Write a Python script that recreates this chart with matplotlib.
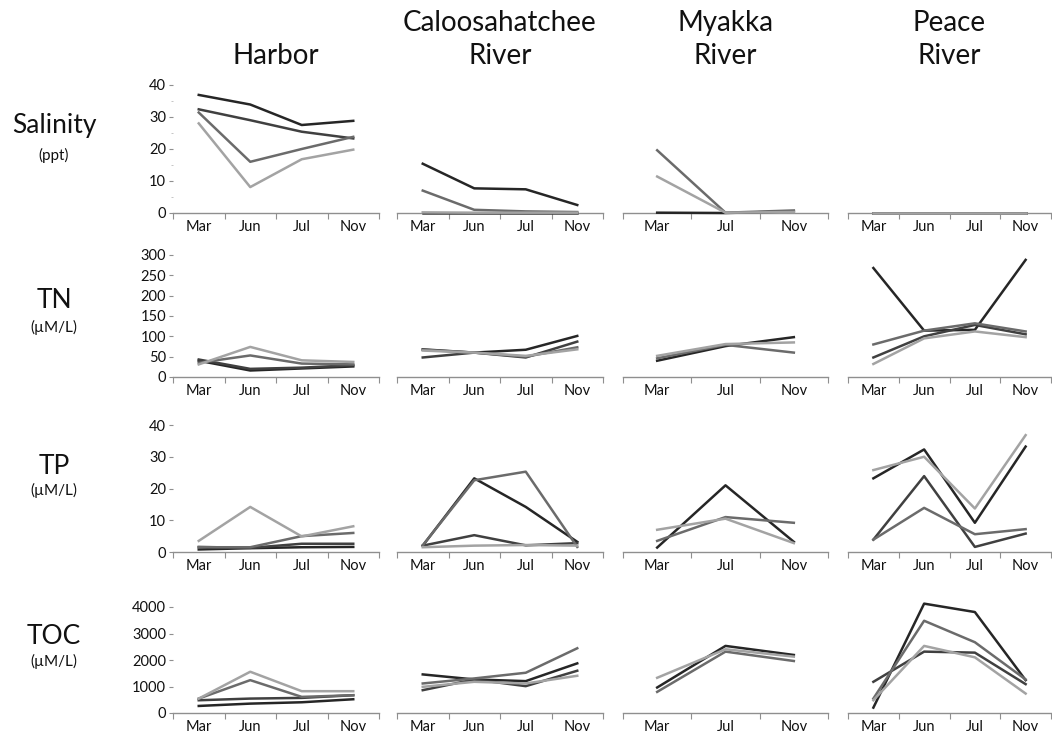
"""
Seasonal water quality at four sites: salinity, TN, TP and TOC
"""

import matplotlib
matplotlib.use("Agg")
import matplotlib.pyplot as plt
from matplotlib.ticker import FixedLocator, MultipleLocator
import numpy as np

plt.rcParams['font.family'] = ['Lato', 'DejaVu Sans']

sites = ["Harbor", "Caloosahatchee\nRiver", "Myakka\nRiver", "Peace\nRiver"]
months_4 = ["Mar", "Jun", "Jul", "Nov"]
months_3 = ["Mar", "Jul", "Nov"]
site_months = [months_4, months_4, months_3, months_4]

params = ["Salinity", "TN", "TP", "TOC"]
units = ["(ppt)", "(\u00b5M/L)", "(\u00b5M/L)", "(\u00b5M/L)"]
y_max = [40, 300, 40, 4000]
y_step = [10, 50, 10, 1000]

# each panel: one list per sampling station, darkest line first
salinity_harbor = [[36.9, 33.9, 27.5, 28.8], [32.4, 29.0, 25.4, 23.3],
                   [31.4, 16.0, 20.0, 23.8], [28.0, 8.1, 16.8, 19.8]]
salinity_caloosa = [[15.4, 7.7, 7.4, 2.5], [0.1, 0.1, 0.1, 0.1],
                    [7.0, 1.0, 0.5, 0.3], [0.2, 0.1, 0.1, 0.1]]
salinity_myakka = [[0.1, 0.0, 0.5], [19.6, 0.1, 0.8], [11.4, 0.1, 0.3]]
salinity_peace = [[0.1, 0.1, 0.1, 0.1], [0.1, 0.1, 0.1, 0.1],
                  [0.1, 0.1, 0.1, 0.1], [0.1, 0.1, 0.1, 0.1]]

tn_harbor = [[40, 16, 21, 26], [43, 20, 23, 29],
             [35, 53, 33, 31], [31, 74, 41, 37]]
tn_caloosa = [[68, 60, 67, 101], [48, 60, 48, 87],
              [67, 60, 50, 73], [65, 60, 52, 68]]
tn_myakka = [[40, 76, 98], [46, 79, 60], [52, 81, 85]]
tn_peace = [[268, 114, 116, 288], [48, 100, 128, 105],
            [80, 114, 132, 112], [32, 95, 112, 98]]

tp_harbor = [[0.8, 1.2, 1.5, 1.6], [1.6, 1.3, 2.6, 2.6],
             [1.5, 1.5, 5.0, 6.0], [3.5, 14.2, 4.9, 8.1]]
tp_caloosa = [[2.0, 23.2, 14.2, 3.2], [2.0, 5.3, 2.1, 2.8],
              [2.1, 22.6, 25.3, 1.6], [1.5, 2.0, 2.2, 2.0]]
tp_myakka = [[1.4, 21.0, 3.2], [3.5, 11.0, 9.2], [7.0, 10.5, 2.8]]
tp_peace = [[23.2, 32.3, 9.2, 33.2], [3.9, 23.9, 1.6, 5.8],
            [3.9, 13.9, 5.6, 7.2], [25.8, 30.0, 13.7, 36.8]]

toc_harbor = [[266, 354, 405, 519], [481, 544, 570, 671],
              [544, 1240, 608, 671], [544, 1557, 823, 823]]
toc_caloosa = [[1456, 1266, 1203, 1873], [861, 1266, 1013, 1595],
               [1114, 1304, 1519, 2443], [987, 1177, 1114, 1405]]
toc_myakka = [[962, 2532, 2190], [797, 2316, 1962], [1329, 2405, 2127]]
toc_peace = [[203, 4127, 3810, 1240], [1177, 2316, 2278, 1089],
             [544, 3481, 2671, 1266], [481, 2532, 2101, 734]]

panels = [
    [salinity_harbor, salinity_caloosa, salinity_myakka, salinity_peace],
    [tn_harbor, tn_caloosa, tn_myakka, tn_peace],
    [tp_harbor, tp_caloosa, tp_myakka, tp_peace],
    [toc_harbor, toc_caloosa, toc_myakka, toc_peace],
]

shades_4 = ['#262626', '#404040', '#6b6b6b', '#a3a3a3']
shades_3 = ['#262626', '#6b6b6b', '#a3a3a3']

W, H = 1052, 743
fig = plt.figure(figsize=(W / 100, H / 100), dpi=100)

# pixel placement of the panels: column x extents, row (top value, zero) y
col_px = [(173, 379), (397, 603), (623, 828), (848, 1051)]
row_px = [(85, 213), (255, 377), (425, 552), (607, 713)]
axis_grey = '#8f8f8f'

for r in range(4):
    ytop, yzero = row_px[r]
    for c in range(4):
        x0, x1 = col_px[c]
        ax = fig.add_axes([x0 / W, 1 - yzero / H, (x1 - x0) / W, (yzero - ytop) / H])
        labels = site_months[c]
        n = len(labels)
        series = panels[r][c]
        shades = shades_4 if len(series) == 4 else shades_3
        for vals, col in zip(series, shades):
            ax.plot(np.arange(n), vals, color=col, lw=1.8, clip_on=False, zorder=3)

        ax.set_xlim(-0.5, n - 0.5)
        ax.set_ylim(0, y_max[r])
        for s in ['top', 'right', 'left']:
            ax.spines[s].set_visible(False)
        ax.spines['bottom'].set_color(axis_grey)
        ax.spines['bottom'].set_linewidth(1.0)

        # ticks between categories, labels centred on them
        ax.xaxis.set_major_locator(FixedLocator(np.arange(n + 1) - 0.5))
        ax.xaxis.set_minor_locator(FixedLocator(np.arange(n)))
        ax.xaxis.set_major_formatter(plt.NullFormatter())
        ax.set_xticklabels(labels, minor=True)
        ax.tick_params(axis='x', which='major', length=4, color=axis_grey, direction='out')
        ax.tick_params(axis='x', which='minor', length=0, pad=5, labelsize=10.5, labelcolor='#111111')

        if c == 0:
            ax.set_yticks(np.arange(0, y_max[r] + 1, y_step[r]))
            if r == 0:
                ax.yaxis.set_minor_locator(MultipleLocator(5))
            ax.tick_params(axis='y', which='major', length=3, color=axis_grey,
                           pad=2, labelsize=10.5, labelcolor='#111111')
            ax.tick_params(axis='y', which='minor', length=1.5, color='#bbbbbb')
        else:
            ax.set_yticks([])
        ax.patch.set_alpha(0)

# site names across the top
for c in range(4):
    x0, x1 = col_px[c]
    fig.text((x0 + x1) / 2 / W, 1 - 64 / H, sites[c], ha='center', va='baseline',
             fontsize=20, linespacing=1.35, color='#111111')

# parameter names down the left
name_y = [125, 300, 466, 637]
unit_y = [155, 327, 490, 661]
for r in range(4):
    fig.text(54 / W, 1 - name_y[r] / H, params[r], ha='center', va='center',
             fontsize=19, color='#111111')
    fig.text(54 / W, 1 - unit_y[r] / H, units[r], ha='center', va='center',
             fontsize=11, color='#111111')

fig.savefig("out.png", dpi=100, facecolor='white')
